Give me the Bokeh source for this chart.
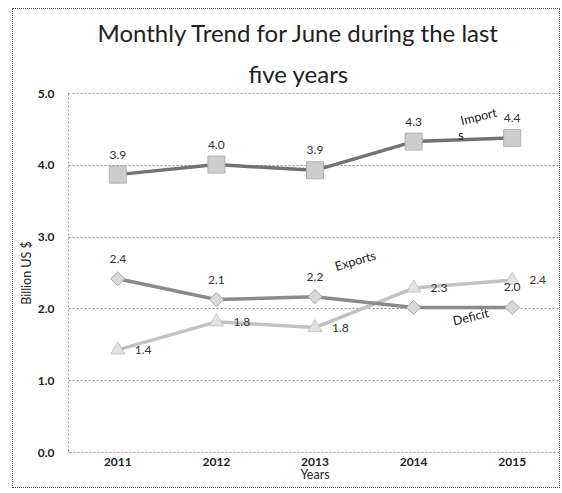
from bokeh.plotting import figure
from bokeh.models import ColumnDataSource, LabelSet, Title, FixedTicker, PrintfTickFormatter
from bokeh.core.properties import value
from bokeh.embed import file_html
from bokeh.resources import INLINE
import math

# ---- data ----
years = [2011, 2012, 2013, 2014, 2015]
year_labels = ["2011", "2012", "2013", "2014", "2015"]
imports = [3.87, 4.01, 3.93, 4.33, 4.38]
exports = [2.42, 2.13, 2.17, 2.02, 2.02]
deficit = [1.43, 1.82, 1.74, 2.29, 2.40]
import_labels = ["3.9", "4.0", "3.9", "4.3", "4.4"]
export_labels = ["2.4", "2.1", "2.2", "", "2.0"]
deficit_labels = ["1.4", "1.8", "1.8", "2.3", "2.4"]
y_ticks = [0, 1, 2, 3, 4, 5]
title_line1 = "Monthly Trend for June  during the last"
title_line2 = "five years"
series_names = ["Import", "s", "Exports", "Deficit"]

FONT = "Lato"
TXT = "#222222"

src = ColumnDataSource(dict(
    x=years, imp=imports, exp=exports, def_=deficit,
    imp_l=import_labels, exp_l=export_labels, def_l=deficit_labels,
))

p = figure(width=548, height=480, x_range=(2010.5, 2015.5), y_range=(0, 5),
           output_backend="svg", toolbar_location=None,
           min_border_left=55, min_border_right=0, min_border_top=84,
           min_border_bottom=37)
p.styles = {"border": "1px dotted #555", "margin": "8px 0px 0px 12px"}

# titles (the one added later sits closer to the plot)
p.title.text = title_line1
p.title.align = "left"
p.title.offset = 29
p.title.text_font = FONT
p.title.text_font_size = "24px"
p.title.text_font_style = "normal"
p.title.text_color = TXT
p.title.standoff = 8
t2 = Title(text=title_line2, align="left", offset=180, text_font=FONT,
           text_font_size="24px", text_font_style="normal", text_color=TXT, standoff=12)
p.add_layout(t2, "above")

# axes
p.yaxis.ticker = FixedTicker(ticks=y_ticks)
p.yaxis.formatter = PrintfTickFormatter(format="%.1f")
p.xaxis.ticker = FixedTicker(ticks=years)
p.xaxis.major_label_overrides = {y: l for y, l in zip(years, year_labels)}
for ax in (p.xaxis[0], p.yaxis[0]):
    ax.axis_line_color = None
    ax.major_tick_line_color = None
    ax.minor_tick_line_color = None
    ax.major_tick_out = 0
    ax.major_tick_in = 0
    ax.major_label_text_font = FONT
    ax.major_label_text_font_size = "12px"
    ax.major_label_text_color = TXT
    ax.major_label_text_font_style = "bold"
    ax.axis_label_text_font = FONT
    ax.axis_label_text_font_size = "12.5px"
    ax.axis_label_text_font_style = "normal"
    ax.axis_label_text_color = TXT
p.yaxis.axis_label = "Billion US $"
p.yaxis.major_label_standoff = 14
p.yaxis.axis_label_standoff = 1
p.xaxis.axis_label = "Years"
p.xaxis.major_label_standoff = 5
p.xaxis.axis_label_standoff = -2

p.xgrid.visible = False
p.ygrid.grid_line_color = "#8a8a8a"
p.ygrid.grid_line_dash = "2 2"
p.ygrid.grid_line_width = 1
p.outline_line_color = "#9a9a9a"
p.outline_line_dash = "2 2"
p.outline_line_width = 1

# lines
p.line("x", "def_", source=src, line_color="#c2c2c2", line_width=3.5)
p.line("x", "exp", source=src, line_color="#8a8a8a", line_width=3.5)
p.line("x", "imp", source=src, line_color="#727272", line_width=3.5)

# markers
p.scatter("x", "def_", source=src, marker="triangle", size=14,
          fill_color="#e2e2e2", line_color="#c6c6c6", line_width=1)
p.scatter("x", "exp", source=src, marker="square", angle=math.pi / 4, size=10,
          fill_color="#d9d9d9", line_color="#a8a8a8", line_width=1)
p.scatter("x", "imp", source=src, marker="square", size=17,
          fill_color="#cdcdcd", line_color="#b2b2b2", line_width=1)

# data labels
common = dict(text_font=value(FONT), text_font_size="12px", text_color="#333333")
p.add_layout(LabelSet(x="x", y="imp", text="imp_l", source=src, y_offset=20,
                      text_align="center", text_baseline="middle", **common))
p.add_layout(LabelSet(x="x", y="exp", text="exp_l", source=src, y_offset=20,
                      text_align="center", text_baseline="middle", **common))
p.add_layout(LabelSet(x="x", y="def_", text="def_l", source=src, x_offset=17,
                      text_align="left", text_baseline="middle", **common))

# series name labels (rotated, as in the original)
names = ColumnDataSource(dict(x=[2014.66, 2014.48, 2013.41, 2014.58],
                              y=[4.68, 4.41, 2.67, 1.89],
                              t=series_names,
                              a=[0.24, 0.0, 0.29, 0.24]))
p.text(x="x", y="y", text="t", angle="a", source=names,
       text_font=value(FONT), text_font_size="12.5px", text_color=TXT,
       text_align="center", text_baseline="middle")

open("out.html", "w").write(file_html(p, INLINE))
